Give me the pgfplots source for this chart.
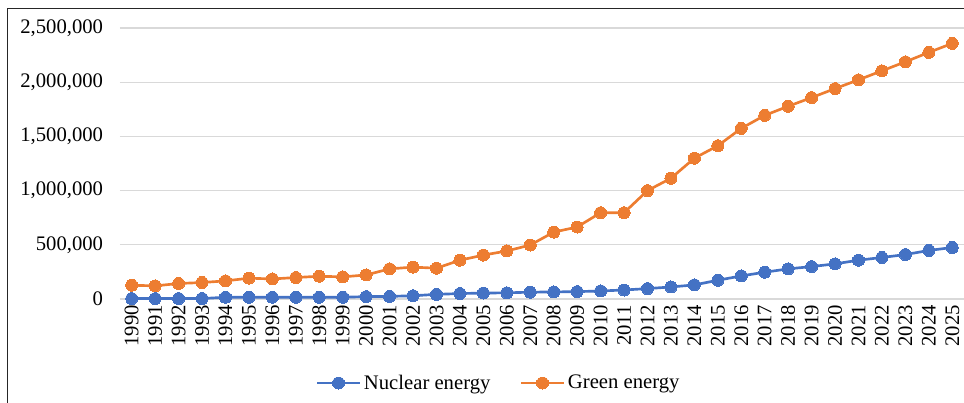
\documentclass[border=0pt]{standalone}
\usepackage{pgfplots}
\pgfplotsset{compat=1.18}
\usepackage{pgfplotstable}
\usepackage{fontspec}
\setmainfont{Liberation Serif}
\definecolor{nucblue}{HTML}{4472C4}
\definecolor{greenorange}{HTML}{ED7D31}
\definecolor{gridgray}{HTML}{D9D9D9}
\pgfplotstableread{
year nuclear green
1990 4000 127000
1991 4000 121000
1992 4000 143000
1993 4000 152000
1994 16000 167000
1995 16000 192000
1996 16000 185000
1997 16000 198000
1998 16000 210000
1999 16000 204000
2000 22000 222000
2001 24000 278000
2002 30000 294000
2003 43000 284000
2004 50000 358000
2005 55000 405000
2006 57000 443000
2007 63000 498000
2008 65000 617000
2009 68000 664000
2010 74000 796000
2011 83000 796000
2012 96000 1000000
2013 111000 1114000
2014 130000 1299000
2015 173000 1414000
2016 213000 1574000
2017 247000 1694000
2018 278000 1778000
2019 299000 1858000
2020 324000 1941000
2021 358000 2022000
2022 383000 2105000
2023 410000 2188000
2024 448000 2275000
2025 475000 2358000
}\datatable
\begin{document}
\begin{tikzpicture}
\useasboundingbox (-90pt,-78pt) rectangle (633pt,224.25pt);
\draw[line width=0.75pt, black!85] (-84pt,-80pt) -- (-84pt,217.5pt) -- (640pt,217.5pt);
\begin{axis}[
  at={(0pt,0pt)}, anchor=south west,
  scale only axis, width=633pt, height=203.25pt,
  xmin=1989.5, xmax=2025.5,
  ymin=0, ymax=2500000,
  clip=false,
  axis line style={draw=none},
  major tick length=0pt,
  ymajorgrids, grid style={gridgray, line width=0.9pt},
  xtick={1990,1991,...,2025},
  ytick={0,500000,1000000,1500000,2000000,2500000},
  scaled y ticks=false,
  font=\fontsize{15.5}{18}\selectfont,
  /pgf/number format/assume math mode=true,
  xticklabel style={yshift=-4.5pt, rotate=90, anchor=east, inner sep=0pt, /pgf/number format/1000 sep={}},
  yticklabel style={anchor=east, inner sep=0pt, xshift=-12.5pt, /pgf/number format/fixed, /pgf/number format/1000 sep={,}},
  legend columns=2,
  legend style={draw=none, fill=none, at={(0.449,-0.31)}, anchor=center, font=\fontsize{15.5}{18}\selectfont,
    /tikz/every even column/.append style={column sep=20pt}},
  legend image code/.code={\draw[#1, mark repeat=2, mark phase=2] plot coordinates {(0cm,0cm) (0.565cm,0cm) (1.13cm,0cm)};},
]
\addplot[nucblue, line width=2pt, mark=*, mark size=4.5pt, mark options={fill=nucblue, draw=nucblue, line width=0pt}] table[x=year, y=nuclear] {\datatable};
\addlegendentry{Nuclear energy}
\addplot[greenorange, line width=2pt, mark=*, mark size=4.5pt, mark options={fill=greenorange, draw=greenorange, line width=0pt}] table[x=year, y=green] {\datatable};
\addlegendentry{Green energy}
\end{axis}
\end{tikzpicture}
\end{document}
